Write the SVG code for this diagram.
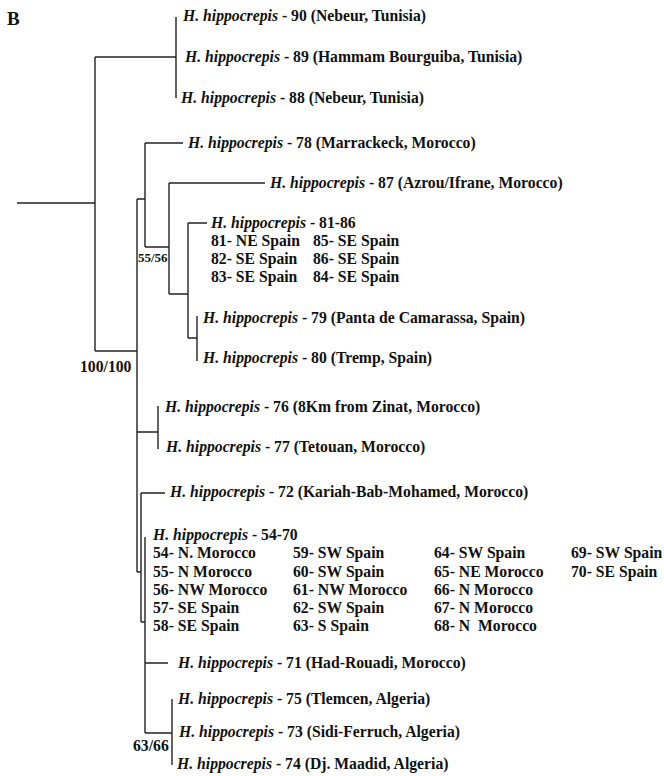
<svg xmlns="http://www.w3.org/2000/svg" width="664" height="776" viewBox="0 0 664 776">
<style>
text{font-family:"Liberation Serif","Times New Roman",serif;font-weight:bold;font-size:15.7px;fill:#111}
.i{font-style:italic}
.s{font-size:13px}
.e{fill:none;stroke:#222;stroke-width:1.4}
</style>
<rect width="664" height="776" fill="#fff"/>
<text x="7" y="25" style="font-size:19px">B</text>
<g id="connectors" class="e">
<path d="M17,203 H95 M95,57 V351"/>
<path d="M95,57 H176 M176,17 V98"/>
<path d="M95,351 H137 M137,199 V572"/>
<path d="M137,199 H145 M145,143 V247 M145,143 H183"/>
<path d="M145,247 H169 M169,183 V294 M169,183 H265"/>
<path d="M169,294 H188 M188,223 V338 M188,223 H207"/>
<path d="M188,338 H197 M197,316 V361"/>
<path d="M137,432 H158 M158,406 V449"/>
<path d="M137,572 H141 M141,493 V622 M141,493 H165"/>
<path d="M141,622 H145 M145,537 V733 M145,663 H168 M145,733 H172 M172,699 V765"/>
</g>
<g id="n90"><text x="183" y="21"><tspan class="i">H. hippocrepis</tspan> - 90 (Nebeur, Tunisia)</text></g>
<g id="n89"><text x="185" y="62"><tspan class="i">H. hippocrepis</tspan> - 89 (Hammam Bourguiba, Tunisia)</text></g>
<g id="n88"><text x="181" y="103"><tspan class="i">H. hippocrepis</tspan> - 88 (Nebeur, Tunisia)</text></g>
<g id="n78"><text x="188" y="148"><tspan class="i">H. hippocrepis</tspan> - 78 (Marrackeck, Morocco)</text></g>
<g id="n87"><text x="270" y="188"><tspan class="i">H. hippocrepis</tspan> - 87 (Azrou/Ifrane, Morocco)</text></g>
<g id="n81-86">
<text x="211" y="228"><tspan class="i">H. hippocrepis</tspan> - 81-86</text>
<text x="211" y="246">81- NE Spain</text>
<text x="211" y="264">82- SE Spain</text>
<text x="211" y="282">83- SE Spain</text>
<text x="313" y="246">85- SE Spain</text>
<text x="313" y="264">86- SE Spain</text>
<text x="313" y="282">84- SE Spain</text>
</g>
<g id="n79"><text x="203" y="323"><tspan class="i">H. hippocrepis</tspan> - 79 (Panta de Camarassa, Spain)</text></g>
<g id="n80"><text x="203" y="363"><tspan class="i">H. hippocrepis</tspan> - 80 (Tremp, Spain)</text></g>
<g id="n76"><text x="165" y="412"><tspan class="i">H. hippocrepis</tspan> - 76 (8Km from Zinat, Morocco)</text></g>
<g id="n77"><text x="166" y="452"><tspan class="i">H. hippocrepis</tspan> - 77 (Tetouan, Morocco)</text></g>
<g id="n72"><text x="170" y="497"><tspan class="i">H. hippocrepis</tspan> - 72 (Kariah-Bab-Mohamed, Morocco)</text></g>
<g id="n54-70">
<text x="153" y="540"><tspan class="i">H. hippocrepis</tspan> - 54-70</text>
<text x="153" y="558">54- N. Morocco</text>
<text x="153" y="577">55- N Morocco</text>
<text x="153" y="595">56- NW Morocco</text>
<text x="153" y="613">57- SE Spain</text>
<text x="153" y="631">58- SE Spain</text>
<text x="293" y="558">59- SW Spain</text>
<text x="293" y="577">60- SW Spain</text>
<text x="293" y="595">61- NW Morocco</text>
<text x="293" y="613">62- SW Spain</text>
<text x="293" y="631">63- S Spain</text>
<text x="434" y="558">64- SW Spain</text>
<text x="434" y="577">65- NE Morocco</text>
<text x="434" y="595">66- N Morocco</text>
<text x="434" y="613">67- N Morocco</text>
<text x="434" y="631" xml:space="preserve">68- N  Morocco</text>
<text x="571" y="558">69- SW Spain</text>
<text x="571" y="577">70- SE Spain</text>
</g>
<g id="n71"><text x="178" y="668"><tspan class="i">H. hippocrepis</tspan> - 71 (Had-Rouadi, Morocco)</text></g>
<g id="n75"><text x="178" y="704"><tspan class="i">H. hippocrepis</tspan> - 75 (Tlemcen, Algeria)</text></g>
<g id="n73"><text x="179" y="737"><tspan class="i">H. hippocrepis</tspan> - 73 (Sidi-Ferruch, Algeria)</text></g>
<g id="n74"><text x="177" y="769"><tspan class="i">H. hippocrepis</tspan> - 74 (Dj. Maadid, Algeria)</text></g>
<g id="support">
<text x="138" y="262" class="s">55/56</text>
<text x="80" y="372">100/100</text>
<text x="133" y="751">63/66</text>
</g>
</svg>
